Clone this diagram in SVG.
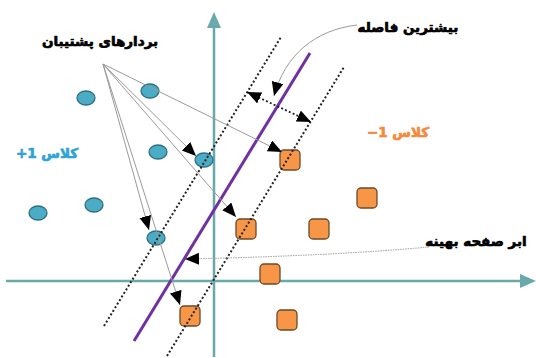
<svg xmlns="http://www.w3.org/2000/svg" width="536" height="358" viewBox="0 0 536 358">
<style>
.lbl{font-family:'DejaVu Sans','Noto Sans',sans-serif;font-weight:bold;font-size:13.5px;text-anchor:middle;direction:rtl;stroke-width:0.7;stroke-linejoin:round}
.ax{stroke:#6aa9ab;stroke-width:2.5;fill:none}
.axh{fill:#6aa9ab}
.dot{stroke:#222;stroke-width:2;stroke-dasharray:2 2.2;fill:none}
.thin{stroke:#9a9a9a;stroke-width:1;fill:none}
.pt{fill:#4bacc6;stroke:#2f6f80;stroke-width:1.3}
.sq{fill:#f79646;stroke:#6b4a2a;stroke-width:1.3}
</style>
<defs>
<marker id="ah" markerUnits="userSpaceOnUse" markerWidth="15" markerHeight="13" refX="14" refY="6" orient="auto-start-reverse">
<path d="M0,0 L14,6 L0,12 z" fill="#000"/>
</marker>
</defs>
<rect width="536" height="358" fill="#fff"/>
<g id="axes">
<line class="ax" x1="214" y1="357" x2="214" y2="26"/>
<path class="axh" d="M214,12 L221,28 L207,28 z"/>
<line class="ax" x1="6" y1="281" x2="522" y2="281"/>
<path class="axh" d="M536,281 L520,274 L520,288 z"/>
</g>
<g id="hyperplane">
<line x1="134" y1="341" x2="310" y2="53" stroke="#7030a0" stroke-width="3"/>
</g>
<g id="class-plus">
<ellipse class="pt" cx="86" cy="98" rx="9" ry="7"/>
<ellipse class="pt" cx="150" cy="91" rx="9" ry="7"/>
<ellipse class="pt" cx="158" cy="152" rx="9" ry="7"/>
<ellipse class="pt" cx="204" cy="160" rx="9" ry="7"/>
<ellipse class="pt" cx="38" cy="213" rx="9" ry="7"/>
<ellipse class="pt" cx="94" cy="205" rx="9" ry="7"/>
<ellipse class="pt" cx="156" cy="238" rx="9" ry="7"/>
</g>
<g id="class-minus">
<rect class="sq" x="280" y="150" width="20" height="20" rx="4"/>
<rect class="sq" x="236" y="219" width="20" height="20" rx="4"/>
<rect class="sq" x="180" y="306" width="20" height="20" rx="4"/>
<rect class="sq" x="357" y="188" width="20" height="20" rx="4"/>
<rect class="sq" x="309" y="219" width="20" height="20" rx="4"/>
<rect class="sq" x="260" y="264" width="20" height="20" rx="4"/>
<rect class="sq" x="277" y="310" width="20" height="20" rx="4"/>
</g>
<g id="margins">
<line class="dot" x1="104" y1="326" x2="281" y2="37"/>
<line class="dot" x1="167" y1="356" x2="344" y2="67"/>
</g>
<g id="connectors">
<line class="thin" x1="103" y1="64" x2="282" y2="152" marker-end="url(#ah)"/>
<line class="thin" x1="103" y1="64" x2="196" y2="156" marker-end="url(#ah)"/>
<line class="thin" x1="103" y1="64" x2="236" y2="217" marker-end="url(#ah)"/>
<line class="thin" x1="103" y1="64" x2="149" y2="230" marker-end="url(#ah)"/>
<line class="thin" x1="103" y1="64" x2="180" y2="305" marker-end="url(#ah)"/>
<line x1="247" y1="92" x2="311" y2="122" stroke="#222" stroke-width="1.8" stroke-dasharray="2 2.2" marker-start="url(#ah)" marker-end="url(#ah)"/>
<path class="thin" d="M357,25 C315,30 285,55 274,96" stroke="#aaa" marker-end="url(#ah)"/>
<path d="M429,247 Q330,256 185,259" fill="none" stroke="#999" stroke-width="1" stroke-dasharray="1.5 1" marker-end="url(#ah)"/>
</g>
<g id="label-sv"><text class="lbl" x="100" y="46" fill="#000" stroke="#000">بردارهای پشتیبان</text></g>
<g id="label-plus"><text class="lbl" x="47" y="158" fill="#2ea3d5" stroke="#2ea3d5">کلاس 1+</text></g>
<g id="label-minus"><text class="lbl" x="398" y="137" fill="#f5893a" stroke="#f5893a">کلاس 1−</text></g>
<g id="label-margin"><text class="lbl" x="408" y="32" fill="#000" stroke="#000">بیشترین فاصله</text></g>
<g id="label-hp"><text class="lbl" x="476" y="246" fill="#000" stroke="#000">ابر صفحه بهینه</text></g>
</svg>
